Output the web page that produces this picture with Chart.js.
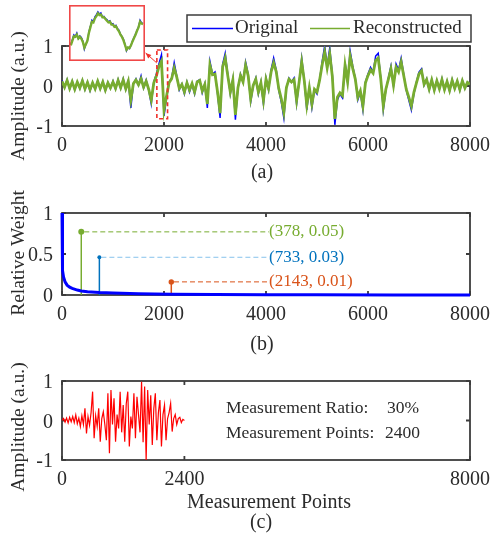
<!DOCTYPE html>
<html>
<head>
<meta charset="utf-8">
<script src="https://cdn.jsdelivr.net/npm/chart.js@4.4.0/dist/chart.umd.min.js"></script>
<style>
  html, body { margin: 0; padding: 0; background: #fff; }
  #wrap { position: relative; width: 498px; height: 541px; }
  #wrap canvas { position: absolute; left: 0; top: 0; }
  #wrap #inset { left: 69px; top: 5px; }
</style>
</head>
<body>
<div id="wrap">
  <canvas id="chartA" width="498" height="541"></canvas>
  <canvas id="chartB" width="498" height="541"></canvas>
  <canvas id="chartC" width="498" height="541"></canvas>
  <canvas id="inset" width="76" height="56"></canvas>
</div>
<script>
// (a) original vs reconstructed signal, one sample every SIG_STEP points
const SIG_STEP = 50;
const originalSig = [
  0.14, -0.04, 0.16, -0.08, 0.12, -0.10, 0.10, -0.06, 0.15, -0.09, 0.10, -0.12, 0.08, -0.08, 0.13, -0.07, 0.11, -0.12, 0.09, -0.06,
  0.12, -0.08, 0.16, -0.06, 0.18, -0.09, 0.14, -0.55, 0.05, 0.18, 0.02, 0.25, -0.05, 0.15, -0.10, -0.45, 0.10, 0.30, 0.55, 0.78,
  -0.75, -0.30, 0.10, 0.20, 0.58, 0.25, -0.10, 0.05, -0.20, 0.10, -0.15, 0.05, -0.20, 0.12, 0.16, -0.17, 0.05, -0.55, 0.62, 0.30,
  0.35, -0.20, -0.80, 0.55, 0.82, 0.30, -0.20, 0.17, -0.84, -0.05, 0.30, 0.10, 0.60, 0.30, -0.40, 0.00, 0.20, -0.20, 0.10, -0.45,
  0.20, -0.10, 0.40, 0.70, 0.40, -0.10, -0.40, -0.80, -0.05, 0.20, 0.10, 0.20, -0.45, 0.10, 0.70, 0.15, -0.60, -0.05, -0.55, -0.10,
  -0.20, 0.15, 0.60, 1.00, 0.50, 0.95, 0.30, -0.97, -0.35, -0.20, -0.30, 0.60, 0.10, 0.87, 0.50, 0.20, -0.35, -0.15, -0.60, 0.10,
  0.30, 0.47, 0.35, 0.75, 0.82, 0.20, -0.60, -0.10, 0.20, 0.50, 0.00, 0.55, 0.40, 0.70, 0.30, -0.10, -0.35, -0.60, -0.20, 0.10,
  0.35, 0.43, 0.02, 0.18, -0.10, 0.16, -0.12, 0.14, -0.08, 0.18, -0.10, 0.12, -0.13, 0.16, -0.07, 0.13, -0.11, 0.15, -0.06, 0.10,
  0.04
];
const reconSig = [
  0.12, -0.03, 0.14, -0.06, 0.11, -0.08, 0.10, -0.05, 0.13, -0.07, 0.09, -0.09, 0.08, -0.07, 0.12, -0.06, 0.10, -0.10, 0.08, -0.05,
  0.10, -0.06, 0.14, -0.04, 0.15, -0.07, 0.12, -0.35, 0.06, 0.15, 0.03, 0.18, -0.03, 0.12, -0.08, -0.35, 0.08, 0.25, 0.48, 0.62,
  -0.60, -0.25, 0.08, 0.18, 0.45, 0.22, -0.06, 0.04, -0.15, 0.08, -0.10, 0.06, -0.15, 0.10, 0.14, -0.12, 0.04, -0.45, 0.52, 0.28,
  0.30, -0.15, -0.68, 0.48, 0.70, 0.26, -0.15, 0.15, -0.72, -0.04, 0.26, 0.10, 0.52, 0.26, -0.32, 0.02, 0.17, -0.15, 0.08, -0.36,
  0.17, -0.06, 0.35, 0.58, 0.36, -0.06, -0.32, -0.66, -0.04, 0.17, 0.10, 0.16, -0.36, 0.10, 0.60, 0.14, -0.48, -0.04, -0.45, -0.08,
  -0.15, 0.14, 0.52, 0.85, 0.45, 0.80, 0.25, -0.82, -0.28, -0.17, -0.24, 0.52, 0.10, 0.75, 0.44, 0.18, -0.28, -0.12, -0.50, 0.08,
  0.26, 0.40, 0.32, 0.64, 0.70, 0.18, -0.50, -0.08, 0.17, 0.43, 0.02, 0.47, 0.35, 0.60, 0.26, -0.08, -0.28, -0.50, -0.16, 0.08,
  0.30, 0.38, 0.04, 0.16, -0.08, 0.15, -0.10, 0.13, -0.07, 0.16, -0.09, 0.11, -0.11, 0.14, -0.06, 0.12, -0.09, 0.13, -0.05, 0.09,
  0.04
];
const sigTicksX = [0, 2000, 4000, 6000, 8000];
const ampTicks = [-1, 0, 1];

// close-up window (normalised 0..1 inside the red box)
const insetOrig = [
  0.30, 0.38, 0.47, 0.44, 0.50, 0.40, 0.45, 0.42, 0.36, 0.21, 0.30, 0.35, 0.52, 0.62, 0.73, 0.70, 0.79,
  0.83, 0.88, 0.84, 0.86, 0.79, 0.80, 0.76, 0.74, 0.70, 0.72, 0.66, 0.67, 0.62, 0.64, 0.58, 0.55,
  0.48, 0.44, 0.39, 0.30, 0.18, 0.24, 0.22, 0.28, 0.36, 0.42, 0.48, 0.55, 0.61, 0.73, 0.68, 0.67
];
const insetRecon = [
  0.28, 0.36, 0.44, 0.43, 0.47, 0.40, 0.43, 0.40, 0.34, 0.24, 0.30, 0.36, 0.50, 0.60, 0.70, 0.69, 0.76,
  0.80, 0.85, 0.82, 0.83, 0.78, 0.78, 0.75, 0.72, 0.69, 0.70, 0.65, 0.65, 0.61, 0.62, 0.57, 0.53,
  0.47, 0.43, 0.37, 0.29, 0.20, 0.24, 0.23, 0.28, 0.35, 0.41, 0.47, 0.54, 0.60, 0.70, 0.67, 0.66
];
const zoomWin = [1860, 2070, -0.82, 0.9];      // xmin, xmax, ymin, ymax
const zoomArrow = [1860, 0.575, 1640, 0.825];  // tail x,y -> head x,y

// (b) relative weight
const weightX = [0, 5, 15, 30, 60, 100, 150, 200, 300, 378, 500, 733, 1000, 1500, 2143, 3000, 4000, 5000, 6500, 8000];
const weightY = [1, 0.6, 0.3, 0.22, 0.16, 0.12, 0.095, 0.08, 0.06, 0.05, 0.04, 0.03, 0.023, 0.015, 0.01, 0.006, 0.004, 0.002, 0.001, 0];
const weightTicks = [0, 0.5, 1];
const stemX = [378, 733, 2143];
const stemW = [0.05, 0.03, 0.01];
const stemH = [0.77, 0.46, 0.16];
const stemColors = ['#77AC30', '#0072BD', '#D95319'];
const leaderColors = ['#77AC30', '#86C2EC', '#D95319'];
const stemRadius = [3, 2, 2.7];

// (c) compressed measurements
const MEAS_STEP = 30;
const measuredSig = [
  0.00, 0.05, -0.04, 0.06, -0.06, 0.08, -0.03, 0.10, -0.05, 0.14, -0.08, 0.06, -0.15, 0.12, -0.10, 0.31,
  -0.33, 0.10, -0.12, 0.20, 0.73, -0.45, 0.12, -0.15, 0.31, -0.54, 0.05, 0.22, -0.10, -0.50, 0.69, -0.83,
  0.77, -0.10, 0.56, -0.54, 0.15, -0.20, 0.73, -0.30, 0.39, -0.54, 0.43, 0.73, -0.66, 0.10, -0.20, 0.69,
  -0.45, 0.60, 0.15, -0.30, 0.98, -0.55, 0.86, -1.00, 0.77, -0.10, 0.64, -0.62, 0.30, 0.69, -0.50, 0.20,
  0.52, -0.66, 0.15, 0.39, -0.50, 0.05, 0.20, 0.43, -0.28, 0.05, 0.15, -0.10, 0.05, 0.08, -0.05, 0.03, 0.00
];
const measTicksX = [0, 2400, 8000];
const measRatio = '30%';
const measPoints = 2400;

const SERIF = '"Liberation Serif", "Times New Roman", serif';
const INK = '#2b2b2b';
const AXIS = '#3c3c3c';
const W = 498, H = 541;

function toPoints(values, step) {
  return values.map((v, i) => ({ x: i * step, y: v }));
}

function xAxis(ticks, max) {
  return {
    type: 'linear', min: 0, max: max,
    grid: { display: false, drawTicks: false },
    border: { display: false },
    afterBuildTicks: s => { s.ticks = ticks.map(v => ({ value: v })); },
    afterFit: s => { s.height = 30; },
    ticks: { font: { family: SERIF, size: 20 }, color: INK, padding: 8, maxRotation: 0, autoSkip: false,
             callback: v => String(v) }
  };
}

function yAxis(ticks, min, max) {
  return {
    type: 'linear', min: min, max: max,
    grid: { display: false, drawTicks: false },
    border: { display: false },
    afterBuildTicks: s => { s.ticks = ticks.map(v => ({ value: v })); },
    afterFit: s => { s.width = 62; },
    ticks: { font: { family: SERIF, size: 20 }, color: INK, padding: 9, labelOffset: 2, autoSkip: false,
             callback: v => String(v) }
  };
}

// box with inward ticks on all four sides
const framePlugin = {
  id: 'frame',
  beforeDatasetsDraw(chart) {
    const { ctx, chartArea: a, scales: { x, y } } = chart;
    const tl = 4;
    ctx.save();
    ctx.strokeStyle = AXIS;
    ctx.lineWidth = 1.8;
    ctx.strokeRect(a.left, a.top, a.right - a.left, a.bottom - a.top);
    ctx.beginPath();
    x.ticks.forEach(t => {
      const px = x.getPixelForValue(t.value);
      ctx.moveTo(px, a.bottom); ctx.lineTo(px, a.bottom - tl);
      ctx.moveTo(px, a.top); ctx.lineTo(px, a.top + tl);
    });
    y.ticks.forEach(t => {
      const py = y.getPixelForValue(t.value);
      ctx.moveTo(a.left, py); ctx.lineTo(a.left + tl, py);
      ctx.moveTo(a.right, py); ctx.lineTo(a.right - tl, py);
    });
    ctx.stroke();
    ctx.restore();
  }
};

function label(ctx, str, x, y, size, align, color) {
  ctx.font = size + 'px ' + SERIF;
  ctx.fillStyle = color || INK;
  ctx.textAlign = align || 'center';
  ctx.textBaseline = 'middle';
  ctx.fillText(str, x, y);
}

function yTitle(ctx, str, x, y) {
  ctx.save();
  ctx.translate(x, y);
  ctx.rotate(-Math.PI / 2);
  label(ctx, str, 0, 0, 19.5);
  ctx.restore();
}

function baseOptions(top, bottom) {
  return {
    responsive: false,
    devicePixelRatio: 1,
    animation: false,
    events: [],
    layout: { padding: { left: 0, right: 23, top: top, bottom: H - bottom - 30 } },
    plugins: { legend: { display: false }, tooltip: { enabled: false } },
    elements: { line: { tension: 0 }, point: { radius: 0 } }
  };
}

// ---------- (a) ----------
const notesA = {
  id: 'notesA',
  afterDraw(chart) {
    const { ctx, scales: { x, y } } = chart;
    ctx.save();
    yTitle(ctx, 'Amplitude (a.u.)', 19, 96);
    label(ctx, '(a)', 262, 173, 20);

    // legend
    ctx.fillStyle = '#fff';
    ctx.fillRect(187, 15, 284, 27);
    ctx.strokeStyle = AXIS;
    ctx.lineWidth = 1.5;
    ctx.strokeRect(187, 15, 284, 27);
    ctx.lineWidth = 1.5;
    ctx.strokeStyle = '#0000FF';
    ctx.beginPath(); ctx.moveTo(192, 28.5); ctx.lineTo(233, 28.5); ctx.stroke();
    ctx.strokeStyle = '#77AC30';
    ctx.beginPath(); ctx.moveTo(310, 28.5); ctx.lineTo(350, 28.5); ctx.stroke();
    label(ctx, 'Original', 235, 28, 19, 'left');
    label(ctx, 'Reconstructed', 353, 28, 19, 'left');

    // dashed window around the zoomed section
    const x0 = x.getPixelForValue(zoomWin[0]), x1 = x.getPixelForValue(zoomWin[1]);
    const y0 = y.getPixelForValue(zoomWin[3]), y1 = y.getPixelForValue(zoomWin[2]);
    ctx.strokeStyle = '#F0302A';
    ctx.lineWidth = 1.6;
    ctx.setLineDash([4, 3]);
    ctx.strokeRect(x0, y0, x1 - x0, y1 - y0);
    ctx.setLineDash([]);

    // arrow to the close-up
    const ax0 = x.getPixelForValue(zoomArrow[0]), ay0 = y.getPixelForValue(zoomArrow[1]);
    const ax1 = x.getPixelForValue(zoomArrow[2]), ay1 = y.getPixelForValue(zoomArrow[3]);
    ctx.lineWidth = 1;
    ctx.beginPath(); ctx.moveTo(ax0, ay0); ctx.lineTo(ax1, ay1); ctx.stroke();
    const ang = Math.atan2(ay1 - ay0, ax1 - ax0);
    ctx.fillStyle = '#F0302A';
    ctx.beginPath();
    ctx.moveTo(ax1, ay1);
    ctx.lineTo(ax1 - 6 * Math.cos(ang - 0.4), ay1 - 6 * Math.sin(ang - 0.4));
    ctx.lineTo(ax1 - 6 * Math.cos(ang + 0.4), ay1 - 6 * Math.sin(ang + 0.4));
    ctx.closePath();
    ctx.fill();
    ctx.restore();
  }
};

new Chart(document.getElementById('chartA'), {
  type: 'line',
  data: {
    datasets: [
      { data: toPoints(reconSig, SIG_STEP), borderColor: '#77AC30', borderWidth: 2.8 },
      { data: toPoints(originalSig, SIG_STEP), borderColor: '#0000FF', borderWidth: 1.5 }
    ]
  },
  options: Object.assign(baseOptions(46, 126), {
    scales: { x: xAxis(sigTicksX, 8000), y: yAxis(ampTicks, -1, 1) }
  }),
  plugins: [framePlugin, notesA]
});

// close-up panel
const insetFrame = {
  id: 'insetFrame',
  beforeDraw(chart) {
    const { ctx, width, height } = chart;
    ctx.save();
    ctx.fillStyle = '#fff';
    ctx.fillRect(0, 0, width, height);
    ctx.restore();
  },
  afterDraw(chart) {
    const { ctx, width, height } = chart;
    ctx.save();
    ctx.strokeStyle = '#F04848';
    ctx.lineWidth = 1.6;
    ctx.strokeRect(0.8, 0.8, width - 1.6, height - 1.6);
    ctx.restore();
  }
};

new Chart(document.getElementById('inset'), {
  type: 'line',
  data: {
    datasets: [
      { data: toPoints(insetRecon, 1), borderColor: '#77AC30', borderWidth: 2.4 },
      { data: toPoints(insetOrig, 1), borderColor: '#0000FF', borderWidth: 1.3 }
    ]
  },
  options: {
    responsive: false,
    devicePixelRatio: 1,
    animation: false,
    events: [],
    layout: { padding: 0 },
    plugins: { legend: { display: false }, tooltip: { enabled: false } },
    elements: { line: { tension: 0 }, point: { radius: 0 } },
    scales: {
      x: { type: 'linear', display: false, min: -1.2, max: 49.3 },
      y: { type: 'linear', display: false, min: 0, max: 1 }
    }
  },
  plugins: [insetFrame]
});

// ---------- (b) ----------
const LABEL_X = 269;
const notesB = {
  id: 'notesB',
  afterDraw(chart) {
    const { ctx, scales: { x, y } } = chart;
    ctx.save();
    yTitle(ctx, 'Relative Weight', 19, 253);
    label(ctx, '(b)', 262, 345, 20);
    stemX.forEach((sx, i) => {
      const px = x.getPixelForValue(sx);
      const py = y.getPixelForValue(stemH[i]);
      ctx.strokeStyle = leaderColors[i];
      ctx.lineWidth = 1;
      ctx.setLineDash([5, 3]);
      ctx.beginPath(); ctx.moveTo(px + stemRadius[i], py); ctx.lineTo(LABEL_X, py); ctx.stroke();
      ctx.setLineDash([]);
      label(ctx, '(' + sx + ', ' + stemW[i].toFixed(2) + ')', LABEL_X, py, 17, 'left', stemColors[i]);
    });
    ctx.restore();
  }
};

const stemSets = stemX.map((sx, i) => ({
  data: [{ x: sx, y: 0 }, { x: sx, y: stemH[i] }],
  borderColor: stemColors[i],
  backgroundColor: stemColors[i],
  borderWidth: 1.5,
  pointRadius: [0, stemRadius[i]],
  pointBackgroundColor: stemColors[i],
  pointBorderWidth: 0
}));

new Chart(document.getElementById('chartB'), {
  type: 'line',
  data: {
    datasets: [
      { data: weightX.map((v, i) => ({ x: v, y: weightY[i] })), borderColor: '#0000FF', borderWidth: 3, clip: false }
    ].concat(stemSets)
  },
  options: Object.assign(baseOptions(213, 295), {
    scales: { x: xAxis(sigTicksX, 8000), y: yAxis(weightTicks, 0, 1) }
  }),
  plugins: [framePlugin, notesB]
});

// ---------- (c) ----------
const notesC = {
  id: 'notesC',
  afterDraw(chart) {
    const { ctx } = chart;
    ctx.save();
    yTitle(ctx, 'Amplitude (a.u.)', 19, 427);
    label(ctx, 'Measurement Points', 269, 503, 20);
    label(ctx, '(c)', 261, 523, 20);
    label(ctx, 'Measurement Ratio:', 226, 408, 17.5, 'left');
    label(ctx, measRatio, 387, 408, 17.5, 'left');
    label(ctx, 'Measurement Points:', 226, 433, 17.5, 'left');
    label(ctx, String(measPoints), 385, 433, 17.5, 'left');
    ctx.restore();
  }
};

new Chart(document.getElementById('chartC'), {
  type: 'line',
  data: {
    datasets: [
      { data: toPoints(measuredSig, MEAS_STEP), borderColor: '#FF0000', borderWidth: 1.2 }
    ]
  },
  options: Object.assign(baseOptions(381, 460), {
    scales: { x: xAxis(measTicksX, 8000), y: yAxis(ampTicks, -1, 1) }
  }),
  plugins: [framePlugin, notesC]
});
</script>
</body>
</html>
